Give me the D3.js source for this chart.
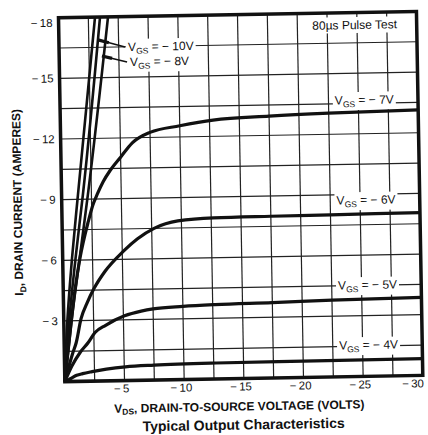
<!DOCTYPE html>
<html>
<head>
<meta charset="utf-8">
<script src="https://cdn.jsdelivr.net/npm/d3@7"></script>
<style>
  body { margin: 0; background: #fff; }
  text { font-family: "Liberation Sans", Arial, Helvetica, sans-serif; fill: #111; }
</style>
</head>
<body>
<div id="chart"></div>
<script>
// Typical Output Characteristics - ID vs VDS for several VGS

var width = 428;
var height = 435;

// tick labels
var xTicks = [-5, -10, -15, -20, -25, -30];
var yTicks = [-3, -6, -9, -12, -15, -18];

// curves: [VDS, ID]
var vgs4 = [[0, 0], [-0.5, -0.15], [-1.0, -0.3], [-1.5, -0.38], [-2.3, -0.47], [-3.5, -0.58],
  [-5.1, -0.68], [-7.5, -0.74], [-12.7, -0.79], [-20, -0.81], [-30, -0.83]];
var vgs5 = [[0, 0], [-0.6, -0.75], [-1.35, -1.45], [-2.0, -1.9], [-2.6, -2.4], [-3.5, -2.75],
  [-5.1, -3.2], [-6.5, -3.42], [-7.5, -3.52], [-10, -3.62], [-12.7, -3.68], [-17.5, -3.73],
  [-22.5, -3.8], [-30, -3.86]];
var vgs6 = [[0, 0], [-0.7, -1.4], [-1.0, -1.9], [-1.45, -3.1], [-2.0, -3.9], [-2.6, -4.6],
  [-3.5, -5.4], [-5.1, -6.4], [-6.3, -7.0], [-7.7, -7.5], [-9.7, -7.85], [-12.7, -7.97],
  [-17.5, -8.0], [-22.5, -8.02], [-30, -8.05]];
var vgs7 = [[0, 0], [-0.5, -2.4], [-1.0, -4.6], [-1.45, -6.1], [-2.2, -7.9], [-2.6, -8.7],
  [-3.0, -9.25], [-3.5, -9.85], [-4.1, -10.4], [-5.0, -11.05], [-6.0, -11.75], [-7.5, -12.25],
  [-10, -12.55], [-12.8, -12.8], [-17.5, -12.95], [-22.5, -13.05], [-30, -13.13]];
var vgs8 = [[0, 0], [-0.65, -3], [-1.45, -6.2], [-2.21, -9.25], [-4.15, -18]];
var vgs10 = [[0, 0], [-0.45, -3], [-1.1, -6.2], [-1.79, -9.25], [-3.48, -18]];
var vgs10b = [[0, 0], [-0.3, -3], [-0.8, -6.2], [-1.37, -9.22], [-3.06, -18]];

var vgsLabels = ["-7V", "-6V", "-5V", "-4V"];

var svg = d3.select("#chart")
  .append("svg")
  .attr("width", width)
  .attr("height", height);

svg.append("rect").attr("width", width).attr("height", height).attr("fill", "#fff");

// the scan is tilted about a degree
var g = svg.append("g").attr("transform", "rotate(-1, 214, 217)");

var x = d3.scaleLinear().domain([0, -30]).range([62, 420]);
var y = d3.scaleLinear().domain([0, -18]).range([379, 15]);

// grid
g.append("g").selectAll("line")
  .data(d3.range(-2.5, -29, -2.5))
  .enter().append("line")
  .attr("x1", d => x(d)).attr("x2", d => x(d))
  .attr("y1", y(0)).attr("y2", y(-18))
  .attr("stroke", "#222").attr("stroke-width", 1.2);

g.append("g").selectAll("line")
  .data(d3.range(-1.5, -17, -1.5))
  .enter().append("line")
  .attr("y1", d => y(d)).attr("y2", d => y(d))
  .attr("x1", x(0)).attr("x2", x(-30))
  .attr("stroke", "#222").attr("stroke-width", 1.2);

// labels on white
function vLabel(cx, cy, val, anchor) {
  var t = g.append("text")
    .attr("x", cx).attr("y", cy + 4)
    .attr("text-anchor", anchor)
    .attr("font-size", 12);
  t.append("tspan").text("V");
  t.append("tspan").attr("font-size", 8.5).attr("dy", 3).text("GS");
  t.append("tspan").attr("dy", -3).text(" = \u2212 " + val.replace("-", ""));
  var b = t.node().getBBox();
  g.insert("rect", function() { return t.node(); })
    .attr("x", b.x - 2).attr("y", b.y - 1)
    .attr("width", b.width + 4).attr("height", b.height + 2)
    .attr("fill", "#fff");
}

var labelAt = { "-7V": [-25.5, -13.67], "-6V": [-25.5, -8.72], "-5V": [-25.5, -4.52], "-4V": [-25.5, -1.55] };
vgsLabels.forEach(function(v) {
  vLabel(x(labelAt[v][0]), y(labelAt[v][1]), v, "middle");
});
vLabel(x(-5.78), y(-16.49), "-10V", "start");
vLabel(x(-5.93), y(-15.75), "-8V", "start");

// pulse note
var pn = g.append("text")
  .attr("x", x(-24.8)).attr("y", y(-17.38) + 4)
  .attr("text-anchor", "middle").attr("font-size", 12)
  .text("80\u00b5s Pulse Test");
var pb = pn.node().getBBox();
g.insert("rect", function() { return pn.node(); })
  .attr("x", pb.x - 3).attr("y", pb.y - 1)
  .attr("width", pb.width + 6).attr("height", pb.height + 2)
  .attr("fill", "#fff");

// curves
var line = d3.line()
  .x(d => x(d[0]))
  .y(d => y(d[1]))
  .curve(d3.curveMonotoneX);

var steep = d3.line()
  .x(d => x(d[0]))
  .y(d => y(d[1]))
  .curve(d3.curveMonotoneY);

[vgs4, vgs5, vgs6, vgs7].forEach(function(c) {
  g.append("path").attr("d", line(c))
    .attr("fill", "none").attr("stroke", "#111").attr("stroke-width", 3.2);
});
[vgs8, vgs10, vgs10b].forEach(function(c) {
  g.append("path").attr("d", steep(c))
    .attr("fill", "none").attr("stroke", "#111").attr("stroke-width", 2.6);
});

// leader lines for -10V / -8V
var leaders = [[[-5.53, -16.49], [-3.28, -16.87]], [[-5.68, -15.75], [-3.59, -16.07]]];
leaders.forEach(function(l) {
  g.append("line")
    .attr("x1", x(l[0][0])).attr("y1", y(l[0][1]))
    .attr("x2", x(l[1][0])).attr("y2", y(l[1][1]))
    .attr("stroke", "#111").attr("stroke-width", 1.5);
  var mx = l[1][0] + (l[0][0] - l[1][0]) * 0.4;
  var my = l[1][1] + (l[0][1] - l[1][1]) * 0.4;
  g.append("line")
    .attr("x1", x(mx)).attr("y1", y(my))
    .attr("x2", x(l[1][0])).attr("y2", y(l[1][1]))
    .attr("stroke", "#111").attr("stroke-width", 3.2);
});

// frame
g.append("rect")
  .attr("x", x(0)).attr("y", y(-18))
  .attr("width", x(-30) - x(0)).attr("height", y(0) - y(-18))
  .attr("fill", "none").attr("stroke", "#111").attr("stroke-width", 3.5);

// tick labels (last one sits against the right edge)
g.append("g").selectAll("text")
  .data(xTicks)
  .enter().append("text")
  .attr("x", d => d === -30 ? x(d) + 1 : x(d) - 3)
  .attr("y", 391)
  .attr("text-anchor", d => d === -30 ? "end" : "middle")
  .attr("font-size", 11.5)
  .text(d => "\u2212\u2009" + Math.abs(d));

g.append("g").selectAll("text")
  .data(yTicks)
  .enter().append("text")
  .attr("x", 56)
  .attr("y", d => Math.max(y(d), 20) + 4)
  .attr("text-anchor", "end")
  .attr("font-size", 11.5)
  .text(d => "\u2212\u2009" + Math.abs(d));

// axis titles
var yt = g.append("text")
  .attr("transform", "translate(22, 199) rotate(-90)")
  .attr("text-anchor", "middle")
  .attr("font-size", 12).attr("font-weight", "bold");
yt.append("tspan").text("I");
yt.append("tspan").attr("font-size", 8.5).attr("dy", 3).text("D");
yt.append("tspan").attr("dy", -3).text(", DRAIN CURRENT (AMPERES)");

var xt = g.append("text")
  .attr("x", 236).attr("y", 411)
  .attr("text-anchor", "middle")
  .attr("font-size", 12).attr("font-weight", "bold");
xt.append("tspan").text("V");
xt.append("tspan").attr("font-size", 8.5).attr("dy", 2).text("DS");
xt.append("tspan").attr("dy", -2).text(", DRAIN-TO-SOURCE VOLTAGE (VOLTS)");

g.append("text")
  .attr("x", 240).attr("y", 430)
  .attr("text-anchor", "middle")
  .attr("font-size", 14).attr("font-weight", "bold")
  .text("Typical Output Characteristics");
</script>
</body>
</html>
